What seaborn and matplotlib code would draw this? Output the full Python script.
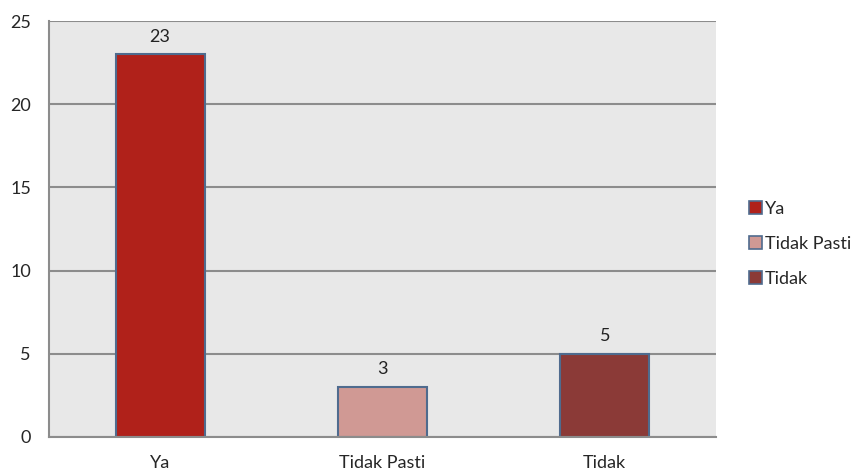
import seaborn as sns
import matplotlib.pyplot as plt
import pandas as pd
from matplotlib.patches import Patch

# data
categories = ['Ya', 'Tidak Pasti', 'Tidak']
values = [23, 3, 5]
colors = ['#B0211A', '#D09994', '#8B3A37']

df = pd.DataFrame({'jawaban': categories, 'jumlah': values})

sns.set_style('white')
plt.rcParams['font.family'] = ['Lato', 'DejaVu Sans']

fig = plt.figure(figsize=(8.59, 4.72), dpi=100)
ax = fig.add_axes([0.057, 0.0742, 0.7765, 0.8813])
ax.set_facecolor('#E8E8E8')

sns.barplot(data=df, x='jawaban', y='jumlah', hue='jawaban', palette=colors,
            saturation=1, width=0.4, edgecolor='#4F6B8E', linewidth=1.5,
            legend=False, ax=ax)

ax.set_xlim(-0.5, 2.5)
ax.set_ylim(0, 25)
ax.set_yticks([0, 5, 10, 15, 20, 25])
ax.yaxis.grid(True, color='#8C8C8C', linewidth=1.5)
ax.set_axisbelow(True)

for cont in ax.containers:
    ax.bar_label(cont, padding=7, fontsize=13, color='#222222')

ax.set_xlabel('')
ax.set_ylabel('')
ax.set_xticks([-0.5, 0.5, 1.5, 2.5], minor=True)
ax.tick_params(axis='x', which='major', length=0, pad=13, labelsize=13)
ax.tick_params(axis='x', which='minor', length=5, width=1.5, color='#8C8C8C', direction='out')
ax.tick_params(axis='y', length=5, width=1.5, color='#8C8C8C', direction='out', labelsize=13, pad=8)

for s in ['top', 'right']:
    ax.spines[s].set_visible(False)
for s in ['left', 'bottom']:
    ax.spines[s].set_color('#8C8C8C')
    ax.spines[s].set_linewidth(1.5)

handles = [Patch(facecolor=c, edgecolor='#4F6B8E', linewidth=1.2, label=l)
           for c, l in zip(colors, categories)]
fig.legend(handles=handles, loc='center left', bbox_to_anchor=(0.853, 0.483),
           frameon=False, fontsize=13, handlelength=0.7, handleheight=0.7,
           handletextpad=0.2, labelspacing=1.05)

fig.savefig('out.png', dpi=100)
